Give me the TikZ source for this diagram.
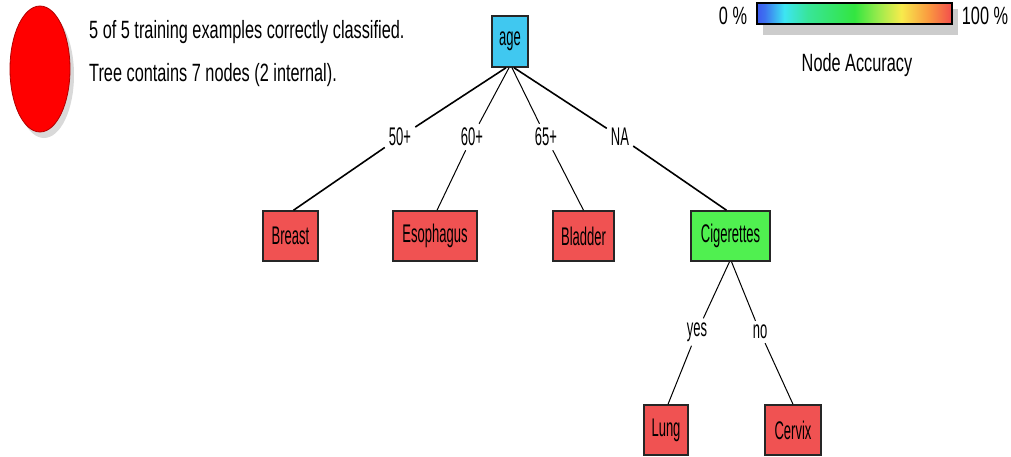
\documentclass[tikz,border=0pt]{standalone}
\usepackage{fontspec}
\setmainfont{Liberation Sans}[FakeStretch=0.652]
\newfontfamily\treefont{Liberation Sans}[FakeStretch=0.51]
\pgfdeclarehorizontalshading{acc}{100bp}{rgb(0bp)=(0.24,0.35,0.94); rgb(25bp)=(0.24,0.35,0.94); rgb(27bp)=(0.24,0.45,0.94); rgb(32bp)=(0.24,0.9,0.95); rgb(38bp)=(0.22,0.9,0.6); rgb(50bp)=(0.2,0.9,0.25); rgb(56bp)=(0.6,0.92,0.3); rgb(62bp)=(0.97,0.92,0.3); rgb(69bp)=(0.98,0.6,0.25); rgb(75bp)=(0.95,0.3,0.3); rgb(100bp)=(0.95,0.3,0.3)}
\definecolor{leafred}{RGB}{240,82,82}
\definecolor{nodegreen}{RGB}{80,240,80}
\definecolor{nodecyan}{RGB}{64,200,240}
\begin{document}
\begin{tikzpicture}[x=1pt,y=-1pt,
  font=\fontsize{25}{27}\selectfont,
  box/.style={draw=black!85, line width=1.5pt, inner sep=0pt, minimum height=50, font=\treefont\fontsize{25.5}{27}\selectfont},
  leaf/.style={box, fill=leafred},
  inner/.style={box, fill=nodegreen},
  root/.style={box, fill=nodecyan},
  lab/.style={inner sep=4pt, font=\treefont\fontsize{25.5}{27}\selectfont},
  txt/.style={inner sep=0pt},
  edge/.style={draw=black, line width=1pt},
  flat/.style={draw=black, line width=1.6pt}]
\useasboundingbox (0,0) rectangle (1011,456);
% big red dot
\fill[black!15] (44,75) ellipse [x radius=30, y radius=63];
\draw[fill=red, draw=red!70!black, line width=0.8pt] (40,69) ellipse [x radius=30, y radius=63];
\node[txt, anchor=west] (t1) at (89,32) {5 of 5 training examples correctly classified.};
\node[txt, anchor=west] (t2) at (89,75) {Tree contains 7 nodes (2 internal).};
% colour bar
\fill[black!20] (763,9) rectangle (958,35);
\node[draw=black, line width=1.5pt, shade, shading=acc, minimum width=195, minimum height=21, inner sep=0pt] (bar) at (854.5,13.5) {};
\node[txt] (p0) at (733,16) {0 \%};
\node[txt] (p100) at (985,16) {100 \%};
\node[txt] (nacc) at (857,65) {Node Accuracy};
% tree nodes
\node[root, minimum width=36, minimum height=51] (age) at (510,41.5) {age};
\node[leaf, minimum width=55] (breast) at (290.5,236) {Breast};
\node[leaf, minimum width=84] (eso) at (435,236) {Esophagus};
\node[leaf, minimum width=61] (blad) at (583.5,236) {Bladder};
\node[inner, minimum width=79] (cig) at (730.5,236) {Cigerettes};
\node[leaf, minimum width=44] (lung) at (666,430) {Lung};
\node[leaf, minimum width=56] (cerv) at (793,430) {Cervix};
% edge labels
\node[lab] (l50) at (400,137) {50+};
\node[lab] (l60) at (472,137) {60+};
\node[lab] (l65) at (546,137) {65+};
\node[lab] (lna) at (620,137) {NA};
\node[lab] (lyes) at (697,332) {yes};
\node[lab] (lno) at (760,332) {no};
% edges
\draw[flat] ([xshift=-4pt]age.south) -- (l50);
\draw[flat] (l50) -- ([xshift=3pt]breast.north);
\draw[edge] ([xshift=-1pt]age.south) -- (l60);
\draw[edge] (l60) -- ([xshift=2pt]eso.north);
\draw[edge] ([xshift=2pt]age.south) -- (l65);
\draw[edge] (l65) -- (blad.north);
\draw[flat] ([xshift=4pt]age.south) -- (lna);
\draw[flat] (lna) -- ([xshift=-4pt]cig.north);
\draw[edge] ([xshift=-1pt]cig.south) -- (lyes);
\draw[edge] (lyes) -- ([xshift=2pt]lung.north);
\draw[edge] ([xshift=1pt]cig.south) -- (lno);
\draw[edge] (lno) -- (cerv.north);
\end{tikzpicture}
\end{document}
